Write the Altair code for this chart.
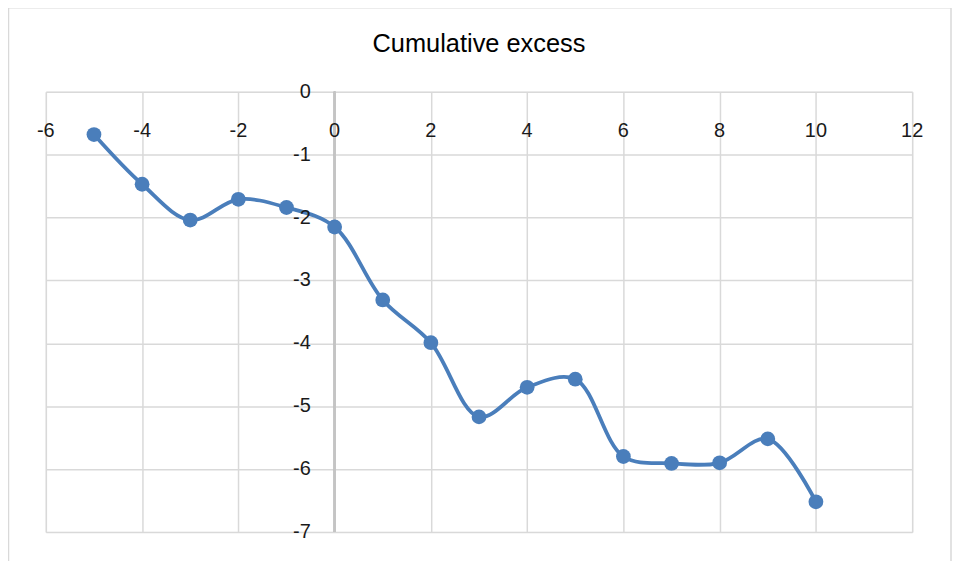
import altair as alt
import pandas as pd

# ---- data ----
x_vals = [-5, -4, -3, -2, -1, 0, 1, 2, 3, 4, 5, 6, 7, 8, 9, 10]
y_vals = [-0.68, -1.47, -2.04, -1.71, -1.84, -2.15, -3.31, -3.99, -5.17,
          -4.70, -4.57, -5.80, -5.91, -5.90, -5.52, -6.52]
x_ticks = [-6, -4, -2, 0, 2, 4, 6, 8, 10, 12]
y_ticks = [0, -1, -2, -3, -4, -5, -6, -7]
title_text = ["Cumulative excess"]

FONT = "Liberation Sans"
BLUE = "#4a7ebb"
GRID = "#d9d9d9"

df = pd.DataFrame({"x": x_vals, "y": y_vals})
xt = pd.DataFrame({"t": x_ticks, "label": [str(v) for v in x_ticks]})
yt = pd.DataFrame({"t": y_ticks, "label": [str(v) for v in y_ticks]})
tt = pd.DataFrame({"title": title_text})

xs = alt.Scale(domain=[x_ticks[0], x_ticks[-1]], nice=False, zero=False)
ys = alt.Scale(domain=[y_ticks[-1], y_ticks[0]], nice=False, zero=False)

xaxis = alt.Axis(values=x_ticks, labels=False, ticks=False, domain=False,
                 grid=True, gridColor=GRID, gridWidth=1.5, title=None)
yaxis = alt.Axis(values=y_ticks, labels=False, ticks=False, domain=False,
                 grid=True, gridColor=GRID, gridWidth=1.5, title=None)

frame = alt.Chart(tt).mark_rect(fill="transparent", stroke="#d9d9d9", strokeWidth=1.5).encode(
    x=alt.value(-37.5), x2=alt.value(909), y=alt.value(-84.5), y2=alt.value(520)
)

title = alt.Chart(tt).mark_text(font=FONT, fontSize=25.5, color="black",
                                baseline="middle", align="center").encode(
    x=alt.value(435), y=alt.value(-48), text="title:N"
)

zero_rule = alt.Chart(df).mark_rule(color="#c4c4c4", strokeWidth=1.5).encode(
    x=alt.datum(0, scale=xs)
)

line = alt.Chart(df).mark_line(interpolate="catmull-rom", color=BLUE, strokeWidth=3.8).encode(
    x=alt.X("x:Q", scale=xs, axis=xaxis),
    y=alt.Y("y:Q", scale=ys, axis=yaxis),
)

points = alt.Chart(df).mark_circle(size=220, color=BLUE, opacity=1).encode(
    x=alt.X("x:Q", scale=xs),
    y=alt.Y("y:Q", scale=ys),
)

xlabels = alt.Chart(xt).mark_text(font=FONT, fontSize=20, color="#1a1a1a",
                                  baseline="middle", align="center").encode(
    x=alt.X("t:Q", scale=xs),
    y=alt.value(39),
    text="label:N",
)

ylabels = alt.Chart(yt).mark_text(font=FONT, fontSize=20, color="#1a1a1a",
                                  baseline="middle", align="right", dx=-24).encode(
    x=alt.datum(0),
    y=alt.Y("t:Q", scale=ys),
    text="label:N",
)

chart = alt.layer(frame, title, zero_rule, line, points, xlabels, ylabels).properties(
    width=870,
    height=442,
    autosize=alt.AutoSizeParams(type="none"),
    padding={"left": 38, "top": 83, "right": 40, "bottom": 28},
).configure_view(stroke=None).configure(background="white")

chart.save("out.html", embed_options={"renderer": "svg", "actions": False})
